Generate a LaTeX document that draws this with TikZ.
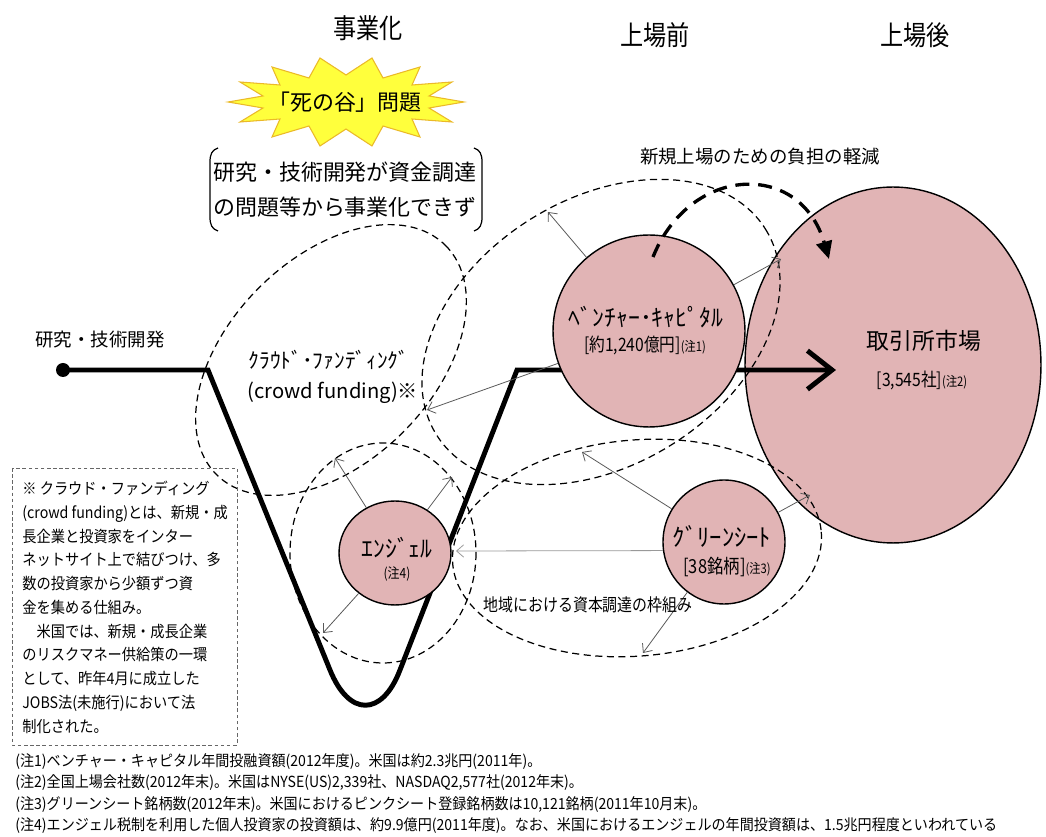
\documentclass[tikz,border=0pt]{standalone}
\usepackage{fontspec}
\setmainfont{Noto Sans CJK JP}
\newfontfamily\jpc{Noto Sans CJK JP}[FakeStretch=0.85]
\newfontfamily\jpn{Noto Sans CJK JP}[FakeStretch=0.9]
\newfontfamily\jpf{Noto Sans CJK JP}[FakeStretch=0.92]
\usetikzlibrary{arrows.meta,shapes.geometric}
\definecolor{pinkc}{RGB}{225,180,181}
\definecolor{staryel}{RGB}{255,255,60}
\definecolor{starline}{RGB}{235,185,40}
\newcommand{\fsz}[1]{\fontsize{#1}{#1}\selectfont}
\begin{document}
\begin{tikzpicture}[x=0.02cm,y=-0.02cm,
  thindash/.style={draw=black, line width=0.7pt, dash pattern=on 4pt off 2.6pt},
  thinarr/.style={draw=black!65, line width=0.45pt, -{Straight Barb[length=4pt,width=7pt]}},
  bubble/.style={ellipse, draw=black, line width=0.8pt, fill=pinkc, inner sep=0pt},
  lbl/.style={inner sep=0pt, align=center},
  header/.style={inner sep=0pt, font=\jpc\fsz{15.5}},
  foot/.style={inner sep=0pt, anchor=west, font=\jpf\fsz{8.7}},
]
\useasboundingbox (0,0) rectangle (1046,837);
\fill[white] (0,0) rectangle (1046,837);

% headers
\node[header] (h1) at (368,28) {事業化};
\node[header] (h2) at (655,35) {上場前};
\node[header] (h3) at (915,35) {上場後};

% star burst
\filldraw[fill=staryel, draw=starline, line width=0.6pt]
 (464,102) -- (429,96) -- (452,82) -- (412,85) -- (420,67) -- (383,78) -- (372,58) -- (346,75)
 -- (320,58) -- (309,78) -- (272,67) -- (280,85) -- (240,82) -- (263,96) -- (228,102) -- (263,108)
 -- (240,122) -- (280,119) -- (272,137) -- (309,126) -- (320,146) -- (346,129) -- (372,146)
 -- (383,126) -- (420,137) -- (412,119) -- (452,122) -- (429,108) -- cycle;
\node[lbl, font=\fsz{12.5}] (death) at (345,102) {「死の谷」問題};

% bracket text
\draw[line width=0.7pt] (218,148) .. controls (212,150) and (210,154) .. (210,162) -- (210,217) .. controls (210,225) and (212,229) .. (218,231);
\draw[line width=0.7pt] (474,148) .. controls (480,150) and (482,154) .. (482,162) -- (482,217) .. controls (482,225) and (480,229) .. (474,231);
\node[lbl, font=\fsz{12.5}] (br1) at (345,172) {研究・技術開発が資金調達};
\node[lbl, font=\fsz{12.5}] (br2) at (345,207) {の問題等から事業化できず};

% big market circle
\node[bubble, minimum width=5.92cm, minimum height=7.12cm] (mkt) at (893,365) {};

% dashed regions
\draw[thindash, rotate around={45:(331,360)}] (331,360) ellipse (162 and 102);
\draw[thindash, rotate around={32:(601,332)}] (601,332) ellipse (194 and 133);
\draw[thindash] (383,553) ellipse (93 and 110);
\draw[thindash, rotate around={5:(637,548)}] (637,548) ellipse (185 and 108);

% research start dot and thick path
\node[circle, fill=black, inner sep=0pt, minimum size=0.28cm] (rd) at (63,370) {};
\coordinate (arrEnd) at (836,370);
\draw[line width=2.8pt, line join=miter, -{Straight Barb[length=14pt,width=22pt]}]
  (rd.center) -- (208,370) -- (330,670) .. controls (349,717) and (382,717) .. (400,670) -- (517,370) -- (arrEnd);
\node[lbl, font=\fsz{10.5}] (rlabel) at (100,340) {研究・技術開発};

% bubbles
\node[bubble, minimum width=3.84cm, minimum height=3.84cm] (vc) at (649,331) {};
\node[bubble, minimum width=2.24cm, minimum height=2.08cm] (angel) at (395,553) {};
\node[bubble, minimum width=2.44cm, minimum height=2.48cm] (green) at (724,542) {};

% thick dashed arrow
\coordinate (dA) at (653,257);
\coordinate (dB) at (829,259);
\draw[line width=1.9pt, dash pattern=on 8pt off 5pt, -{Triangle[length=10pt,width=9pt]}]
  (dA) .. controls (690,165) and (800,160) .. (dB);

% thin arrows
\coordinate (t1) at (548,212);
\coordinate (t2) at (781,259);
\coordinate (t3) at (427,410);
\coordinate (t4) at (335,458);
\coordinate (t5) at (452,477);
\coordinate (t6) at (323,633);
\coordinate (t7) at (456,551);
\coordinate (t8) at (582,452);
\coordinate (t9) at (810,495);
\coordinate (t10) at (643,653);
\draw[thinarr] (vc) -- (t1);
\draw[thinarr] (vc) -- (t2);
\draw[thinarr] (vc) -- (t3);
\draw[thinarr] (angel) -- (t4);
\draw[thinarr] (angel) -- (t5);
\draw[thinarr] (angel) -- (t6);
\draw[thinarr, draw=black!40] (green.188) -- (t7);
\draw[thinarr] (green) -- (t8);
\draw[thinarr] (green) -- (t9);
\draw[thinarr] (green) -- (t10);

% labels
\node[lbl, font=\fsz{10.5}] (relief) at (760,157) {新規上場のための負担の軽減};
\node[lbl, font=\fsz{12.2}] (cf1) at (329,360) {ｸﾗｳﾄﾞ･ﾌｧﾝﾃﾞｨﾝｸﾞ};
\node[lbl, font=\fsz{11.5}] (cf2) at (333,393) {(crowd funding)※};
\node[lbl, font=\fsz{13.5}] (vc1) at (646,317) {ﾍﾞﾝﾁｬｰ･ｷｬﾋﾟﾀﾙ};
\node[lbl, font=\jpc\fsz{10.5}] (vc2) at (645,346) {[約1,240億円]{\fsz{7.5}(注1)}};
\node[lbl, font=\fsz{13}] (mk1) at (924,341) {取引所市場};
\node[lbl, font=\jpc\fsz{10.5}] (mk2) at (922,381) {[3,545社]{\fsz{7.5}(注2)}};
\node[lbl, font=\fsz{13.5}] (an1) at (397,548) {ｴﾝｼﾞｪﾙ};
\node[lbl, font=\jpc\fsz{8}] (an2) at (397,574) {(注4)};
\node[lbl, font=\fsz{14}] (gr1) at (722,536) {ｸﾞﾘｰﾝｼｰﾄ};
\node[lbl, font=\jpc\fsz{11}] (gr2) at (727,567) {[38銘柄]{\fsz{7.5}(注3)}};
\node[lbl, font=\jpc\fsz{10}] (reg) at (588,605) {地域における資本調達の枠組み};

% notes box
\draw[draw=black!60, line width=0.5pt, dash pattern=on 2pt off 1.5pt] (12,468) rectangle (237,745);
\node[anchor=north west, align=left, inner sep=0pt, font=\jpn\fontsize{9}{13.5}\selectfont] (note) at (22,481)
 {※\ クラウド・ファンディング\\(crowd funding)とは、新規・成\\長企業と投資家をインター\\ネットサイト上で結びつけ、多\\数の投資家から少額ずつ資\\金を集める仕組み。\\　米国では、新規・成長企業\\のリスクマネー供給策の一環\\として、昨年4月に成立した\\JOBS法(未施行)において法\\制化された。};

% footnotes
\node[foot] (f1) at (15,762) {(注1)ベンチャー・キャピタル年間投融資額(2012年度)。米国は約2.3兆円(2011年)。};
\node[foot] (f2) at (15,783) {(注2)全国上場会社数(2012年末)。米国はNYSE(US)2,339社、NASDAQ2,577社(2012年末)。};
\node[foot] (f3) at (15,805) {(注3)グリーンシート銘柄数(2012年末)。米国におけるピンクシート登録銘柄数は10,121銘柄(2011年10月末)。};
\node[foot] (f4) at (15,826) {(注4)エンジェル税制を利用した個人投資家の投資額は、約9.9億円(2011年度)。なお、米国におけるエンジェルの年間投資額は、1.5兆円程度といわれている};
\end{tikzpicture}
\end{document}
